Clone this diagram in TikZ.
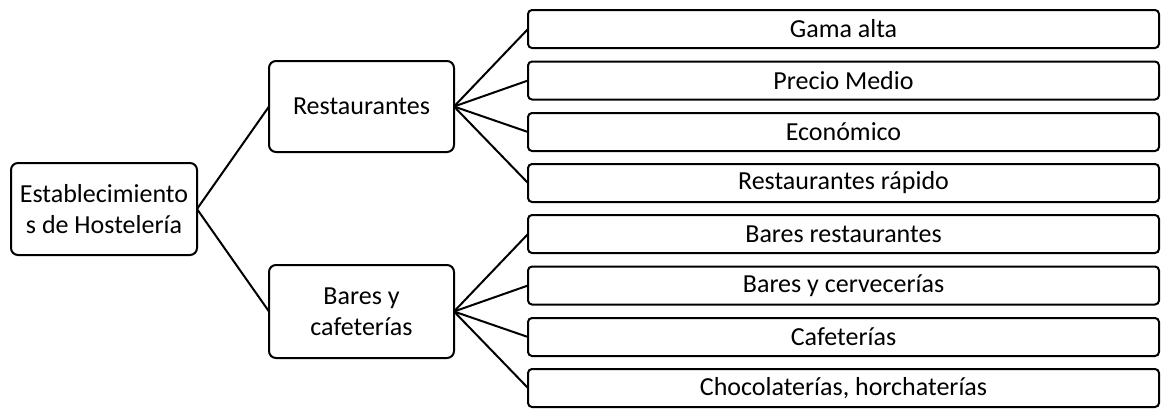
\documentclass[tikz,border=0pt]{standalone}
\usepackage{fontspec}
\setmainfont{Carlito}
\begin{document}
\begin{tikzpicture}[x=1pt,y=-1pt,
  box/.style={draw=black, line width=2pt, rounded corners=7pt, outer sep=0pt, inner sep=2pt,
    font=\fontsize{26}{31}\selectfont, align=center, fill=white},
  leaf/.style={draw=black, line width=2pt, rounded corners=4pt, outer sep=0pt, inner sep=0pt,
    minimum width=631pt, minimum height=38pt, font=\fontsize{26}{31}\selectfont},
  link/.style={line width=2pt, black}]
\useasboundingbox (0,0) rectangle (1161,408);
\node[box, minimum width=186pt, minimum height=92pt] (root) at (104,209) {Establecimiento\\s de Hostelería};
\node[box, minimum width=185pt, minimum height=91pt] (rest) at (361.5,106.5) {Restaurantes};
\node[box, minimum width=185pt, minimum height=93pt] (bar) at (361.5,311.5) {Bares y\\cafeterías};
\node[leaf] (l1) at (843.5,29) {Gama alta};
\node[leaf] (l2) at (843.5,80.5) {Precio Medio};
\node[leaf] (l3) at (843.5,132) {Económico};
\node[leaf] (l4) at (843.5,183) {Restaurantes rápido};
\node[leaf] (l5) at (843.5,234) {Bares restaurantes};
\node[leaf] (l6) at (843.5,285.5) {Bares y cervecerías};
\node[leaf] (l7) at (843.5,337) {Cafeterías};
\node[leaf] (l8) at (843.5,388) {Chocolaterías, horchaterías};
\draw[link] (root.east) -- (rest.west);
\draw[link] (root.east) -- (bar.west);
\foreach \i in {1,2,3,4} \draw[link] (rest.east) -- (l\i.west);
\foreach \i in {5,6,7,8} \draw[link] (bar.east) -- (l\i.west);
\end{tikzpicture}
\end{document}
